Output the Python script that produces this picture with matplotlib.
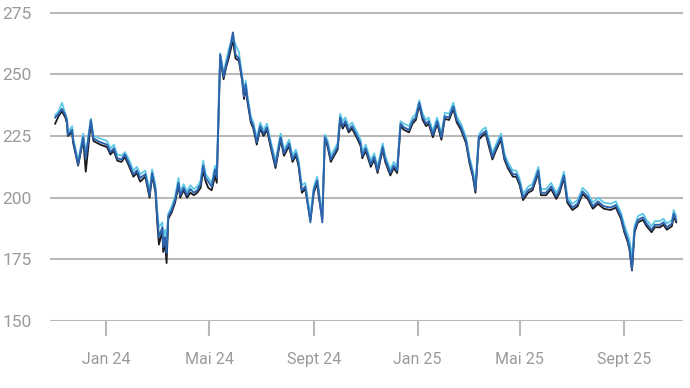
import matplotlib
matplotlib.use("Agg")
import matplotlib.pyplot as plt
import pandas as pd

# ---------------- data ----------------
day_offsets = [
    -60, -56, -52, -48, -46, -45, -40, -39, -33, -27,
    -24, -18, -15, -7, 1, 5, 9, 13, 18, 22,
    26, 32, 36, 40, 46, 51, 54, 58, 60, 62,
    66, 67, 69, 71, 73, 77, 81, 85, 87, 91,
    95, 99, 103, 107, 111, 114, 117, 120, 124, 128,
    130, 134, 138, 141, 144, 149, 152, 156, 160, 162,
    164, 166, 170, 173, 177, 181, 185, 189, 193, 199,
    205, 209, 215, 219, 223, 226, 230, 234, 240, 244,
    248, 250, 254, 257, 260, 264, 268, 272, 275, 278,
    281, 285, 289, 295, 299, 301, 305, 311, 315, 319,
    325, 328, 334, 338, 342, 346, 350, 356, 360, 364,
    368, 372, 376, 379, 384, 389, 394, 398, 403, 408,
    412, 417, 423, 427, 431, 434, 438, 442, 446, 450,
    454, 458, 464, 468, 472, 478, 482, 486, 490, 496,
    501, 508, 511, 517, 523, 529, 533, 538, 542, 548,
    554, 560, 566, 572, 578, 585, 593, 599, 605, 609,
    613, 615, 618, 621, 625, 631, 635, 641, 645, 651,
    655, 659, 665, 667, 670,
]

series_blue = [
    232.5, 234, 236, 233.5, 231, 225.5, 227.5, 223.5, 213.5, 224.5,
    216, 231.5, 224, 222.5, 221.5, 218.5, 220, 216, 215.5, 217.5,
    214.5, 209.5, 211, 208, 209.5, 201, 210, 203, 192.5, 184,
    188, 180, 184, 177.5, 192.5, 195, 199, 206, 201, 204,
    201, 203.5, 202, 203, 205.5, 213, 208, 206.5, 204.5, 211.5,
    208, 258, 249, 254, 258, 267, 258, 256.5, 248, 241,
    246, 240, 231.5, 229, 222.5, 229, 226, 228.5, 222, 213,
    224.5, 218, 222, 215.5, 218, 214, 203, 204.5, 190, 203,
    207, 201.5, 190, 224.5, 222, 215.5, 218, 220.5, 232.5, 229,
    231, 227.5, 229, 225, 222, 217, 220, 213.5, 216.5, 211,
    220.5, 215.5, 210, 213, 211, 230, 228.5, 227.5, 231, 232.5,
    238.5, 232.5, 230, 231, 225.5, 231, 224.5, 233, 232.5, 237,
    231.5, 228.5, 223, 215, 209.5, 203, 224.5, 226, 227, 222,
    216.5, 220, 224.5, 216.5, 213, 209.5, 209.5, 206, 200, 203,
    204, 211, 202, 202, 204.5, 200.5, 203, 209, 199, 196,
    197.5, 202.5, 200.5, 196.5, 198.5, 196.5, 196, 197, 192.5, 187,
    183, 180, 171, 187, 191, 192, 189.5, 187, 189, 189,
    190, 188, 189.5, 193.5, 191,
]

series_cyan = [
    233.5, 235, 238.5, 234, 232, 226.5, 229, 224.5, 215, 226,
    218, 232, 225, 224, 223, 220, 221.5, 217.5, 217, 218.5,
    216, 211, 212.5, 209.5, 211, 203, 211.5, 205, 195, 188,
    190, 184, 187, 183, 193.5, 196.5, 200.5, 208, 202.5, 205.5,
    202.5, 205, 203.5, 204.5, 207, 215, 209.5, 208, 206, 213,
    209.5, 258.5, 250.5, 255.5, 260, 265, 262, 259, 249, 242.5,
    247.5, 241.5, 233, 230.5, 224, 230.5, 227.5, 230, 223.5, 215,
    226, 219.5, 223.5, 217, 219.5, 215.5, 205, 206, 193, 204.5,
    208.5, 203, 192.5, 225.5, 223.5, 217, 219.5, 222, 234, 231,
    232.5, 229, 230.5, 226.5, 223.5, 218.5, 221.5, 215, 218, 212.5,
    222, 217, 211.5, 214.5, 212.5, 231, 230, 229, 232.5, 234,
    239.5, 234, 231.5, 232.5, 227, 232.5, 226, 234.5, 234, 238.5,
    233, 230, 224.5, 216.5, 211, 205, 225.5, 227.5, 228.5, 223.5,
    218, 221.5, 226, 218, 214.5, 211, 211, 207.5, 201.5, 204.5,
    205.5, 212.5, 203.5, 203.5, 206, 202, 204.5, 210.5, 200.5, 197.5,
    199, 204, 202, 198, 200, 198, 197.5, 198.5, 194, 189,
    185, 183, 176, 188.5, 192.5, 193.5, 191, 188.5, 190.5, 190.5,
    191.5, 189.5, 191, 195, 192.5,
]

series_black = [
    230, 233, 235, 232.5, 230, 225, 226.5, 222.5, 213, 223.5,
    210.5, 230.5, 223, 221.5, 220.5, 217.5, 219, 215, 214.5, 216.5,
    213.5, 208.5, 210, 206.5, 208.5, 200, 209, 202, 190, 181,
    186.5, 178, 182, 173.5, 191.5, 194, 198, 205, 200, 203,
    200, 202, 201, 202, 204, 211, 206.5, 204, 203, 209,
    206, 257, 248, 253, 256.5, 264, 256.5, 255.5, 247, 240,
    245, 239, 230.5, 228, 221.5, 228, 225, 227.5, 221, 212,
    223.5, 217, 221, 214.5, 217, 213, 202, 203.5, 191, 202,
    206, 200, 191.5, 223.5, 221, 214.5, 217, 219.5, 231.5, 228,
    230, 226.5, 228, 224, 221, 216, 219, 212.5, 215.5, 210,
    219.5, 214.5, 209, 212, 210, 229, 227.5, 226.5, 230, 231.5,
    237.5, 231.5, 229, 230, 224.5, 230, 223.5, 232, 231.5, 236,
    230.5, 227.5, 222, 214, 208.5, 202, 223.5, 225, 226, 220.5,
    215.5, 219, 223.5, 215.5, 212, 208.5, 208.5, 205, 199, 202,
    203, 210, 201, 201, 203.5, 199.5, 202, 208, 198, 195,
    196.5, 201.5, 199.5, 195.5, 197.5, 195.5, 195, 196, 191.5, 186,
    182, 179, 170.5, 186, 190, 191, 188.5, 186, 188, 188,
    189, 187, 188.5, 192.5, 190,
]

tick_dates = ["2024-01-01", "2024-05-01", "2024-09-01", "2025-01-01", "2025-05-01", "2025-09-01"]
tick_labels = ["Jan 24", "Mai 24", "Sept 24", "Jan 25", "Mai 25", "Sept 25"]
y_ticks = [150, 175, 200, 225, 250, 275]

# ---------------- plot ----------------
plt.rcParams['font.family'] = ['Roboto', 'DejaVu Sans']

dates = pd.Timestamp("2024-01-01") + pd.to_timedelta(day_offsets, unit="D")

fig = plt.figure(figsize=(6.9, 3.88), dpi=100)
ax = fig.add_axes([0.0725, 0.1727, 0.9174, 0.8073])

ax.plot(dates, series_black, color="#1b1b1f", lw=1.3, zorder=3)
ax.plot(dates, series_cyan, color="#5ec9e6", lw=1.3, zorder=3)
ax.plot(dates, series_blue, color="#2d63ad", lw=1.4, zorder=4)

ax.set_ylim(150, 277)
ax.set_xlim(pd.Timestamp("2023-10-27"), pd.Timestamp("2025-11-09"))
ax.set_yticks(y_ticks)
ax.set_xticks(pd.to_datetime(tick_dates))
ax.set_xticklabels(tick_labels)

ax.grid(axis="y", color="#b9b9b9", lw=1.5, zorder=1)
for s in ax.spines.values():
    s.set_visible(False)

ax.tick_params(axis="y", length=0, pad=13, labelsize=12.5, labelcolor="#9a9a9a")
ax.tick_params(axis="x", length=11, width=1.5, color="#b9b9b9", pad=11,
               labelsize=11.5, labelcolor="#9a9a9a")

fig.savefig("out.png", dpi=100)
